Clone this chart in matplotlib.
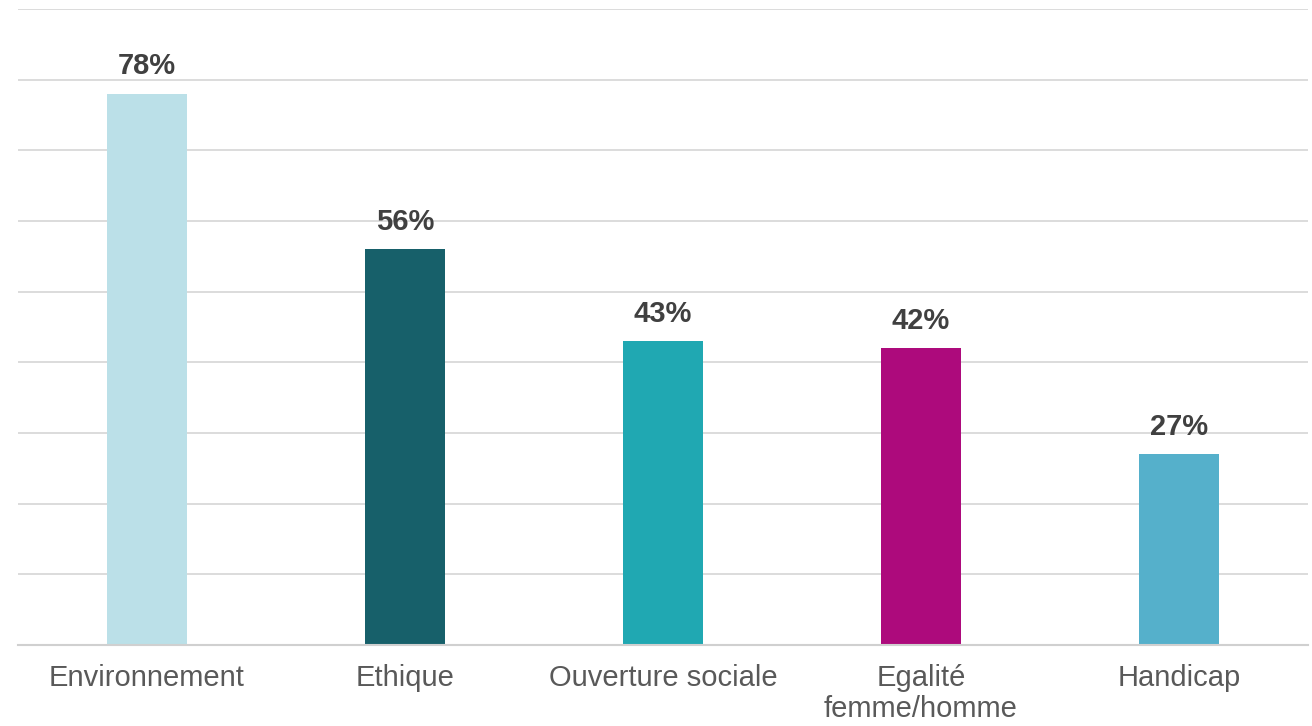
import numpy as np
import matplotlib
matplotlib.use("Agg")
import matplotlib.pyplot as plt

plt.rcParams['font.family'] = ['Liberation Sans', 'DejaVu Sans']

categories = ["Environnement", "Ethique", "Ouverture sociale", "Egalité\nfemme/homme", "Handicap"]
values = [78, 56, 43, 42, 27]
colors = ["#BBE0E8", "#17606A", "#20A8B2", "#AD0A7C", "#55B0CB"]

fig = plt.figure(figsize=(13.12, 7.26), dpi=100)
ax = fig.add_axes([18 / 1312, 81 / 726, 1290 / 1312, 636 / 726])

x = np.arange(len(categories))
bars = ax.bar(x, values, width=0.31, color=colors, zorder=3)

for b, v in zip(bars, values):
    ax.text(b.get_x() + b.get_width() / 2, v + 1.9, f"{v}%", ha="center", va="bottom",
            fontsize=21, fontweight="bold", color="#404040")

ax.set_xlim(-0.5, len(categories) - 0.5)
ax.set_ylim(0, 90)
ax.set_yticks(np.arange(0, 91, 10))
ax.yaxis.grid(True, color="#D9D9D9", linewidth=1.3, zorder=0)
ax.set_yticklabels([])
ax.tick_params(axis="y", length=0)

ax.set_xticks(x)
ax.set_xticklabels(categories, fontsize=21, color="#595959", linespacing=1.1)
ax.tick_params(axis="x", length=0, pad=14)

for s in ["top", "right", "left"]:
    ax.spines[s].set_visible(False)
ax.spines["bottom"].set_color("#D0D0D0")
ax.spines["bottom"].set_linewidth(1.5)
ax.spines["bottom"].set_zorder(4)

fig.savefig("out.png", dpi=100)
